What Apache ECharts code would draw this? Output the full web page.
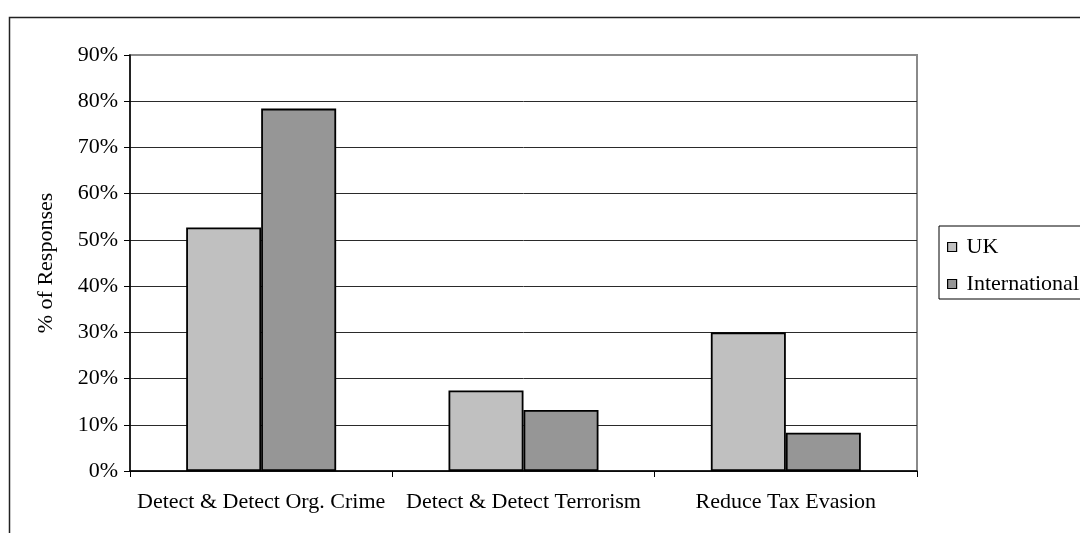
<!DOCTYPE html>
<html>
<head>
<meta charset="utf-8">
<style>
  html, body { margin: 0; padding: 0; background: #fff; }
  #chart { width: 1080px; height: 533px; }
</style>
<script src="https://cdn.jsdelivr.net/npm/echarts@6/dist/echarts.min.js"></script>
</head>
<body>
<div id="chart"></div>
<script>
// Reasons given for data retention, share of responses (%)
const categories = ['Detect & Detect Org. Crime', 'Detect & Detect Terrorism', 'Reduce Tax Evasion'];
const ukValues = [52.7, 17.4, 30.0];
const internationalValues = [78.4, 13.2, 8.3];
const seriesNames = ['UK', 'International'];
const yAxisTitle = '% of Responses';

const FONT = '"Liberation Serif", "DejaVu Serif", serif';
const FONT_SIZE = 22;

const chart = echarts.init(document.getElementById('chart'));

chart.setOption({
  animation: false,
  backgroundColor: '#ffffff',
  textStyle: { fontFamily: FONT, color: '#000' },
  graphic: [{
    type: 'rect',
    shape: { x: 9.5, y: 17.5, width: 1200, height: 700 },
    style: { fill: 'none', stroke: '#222', lineWidth: 1.5 },
    silent: true,
    z: -10
  }],
  grid: {
    left: 130, right: 163, top: 55, bottom: 62,
    show: true,
    borderColor: '#8a8a8a',
    borderWidth: 2,
    backgroundColor: 'transparent'
  },
  legend: {
    orient: 'vertical',
    left: 939,
    top: 226,
    data: seriesNames,
    icon: 'rect',
    itemWidth: 9,
    itemHeight: 9,
    itemGap: 15,
    padding: [10, 40, 4, 8],
    borderColor: '#000',
    borderWidth: 1,
    backgroundColor: '#fff',
    textStyle: { fontFamily: FONT, fontSize: FONT_SIZE, color: '#000', lineHeight: 22, padding: [0, 0, 0, 5] },
    itemStyle: { borderColor: '#000', borderWidth: 1.2 }
  },
  xAxis: {
    type: 'category',
    data: categories,
    axisLine: { show: true, lineStyle: { color: '#000', width: 1.5 } },
    axisTick: { show: true, length: 6, alignWithLabel: false, lineStyle: { color: '#000' } },
    axisLabel: { fontFamily: FONT, fontSize: FONT_SIZE, color: '#000', margin: 20, interval: 0 },
    splitLine: { show: false }
  },
  yAxis: {
    type: 'value',
    min: 0,
    max: 90,
    interval: 10,
    name: yAxisTitle,
    nameLocation: 'middle',
    nameGap: 73,
    nameTextStyle: { fontFamily: FONT, fontSize: FONT_SIZE, color: '#000' },
    axisLine: { show: true, lineStyle: { color: '#000', width: 1.5 } },
    axisTick: { show: true, length: 6, lineStyle: { color: '#000' } },
    axisLabel: { fontFamily: FONT, fontSize: FONT_SIZE, color: '#000', margin: 12, formatter: '{value}%' },
    splitLine: { show: true, showMaxLine: false, lineStyle: { color: '#2a2a2a', width: 1 } }
  },
  series: [
    {
      name: seriesNames[0],
      type: 'bar',
      data: ukValues,
      barWidth: 75,
      barGap: '0%',
      itemStyle: { color: '#c0c0c0', borderColor: '#000', borderWidth: 1.8 }
    },
    {
      name: seriesNames[1],
      type: 'bar',
      data: internationalValues,
      barWidth: 75,
      barGap: '0%',
      itemStyle: { color: '#969696', borderColor: '#000', borderWidth: 1.8 }
    }
  ]
});
</script>
</body>
</html>
